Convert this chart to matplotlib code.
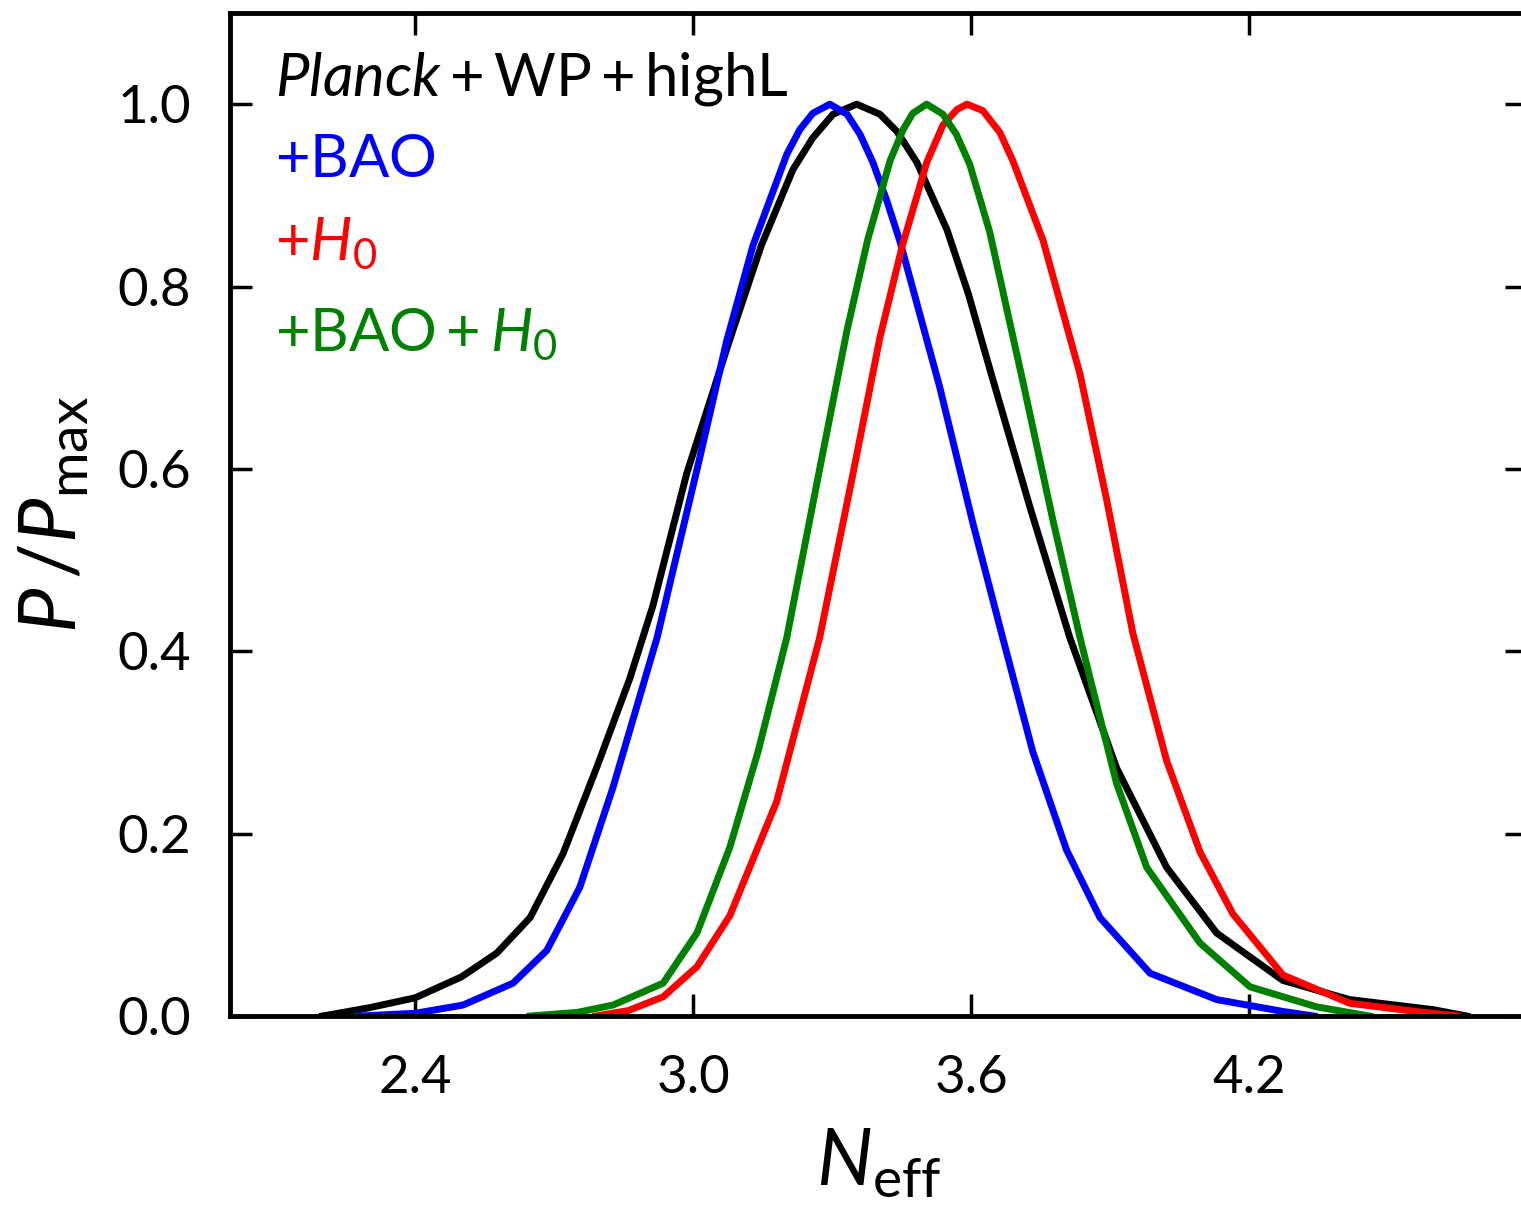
import matplotlib
matplotlib.use("Agg")
import matplotlib.pyplot as plt

# marginalised 1D posteriors for N_eff, normalised to the peak
black_x = [2.20, 2.30, 2.40, 2.50, 2.576, 2.648, 2.719, 2.792, 2.863, 2.913, 2.986, 3.079,
           3.147, 3.215, 3.258, 3.302, 3.353, 3.403, 3.440, 3.483, 3.548, 3.594, 3.640,
           3.727, 3.813, 3.914, 4.022, 4.130, 4.273, 4.417, 4.597, 4.67]
black_y = [0.0, 0.009, 0.020, 0.043, 0.069, 0.108, 0.178, 0.273, 0.37, 0.45, 0.595, 0.742,
           0.845, 0.928, 0.963, 0.989, 1.0, 0.989, 0.970, 0.936, 0.862, 0.792, 0.710,
           0.558, 0.415, 0.272, 0.163, 0.091, 0.039, 0.018, 0.007, 0.0]

blue_x = [2.28, 2.40, 2.503, 2.611, 2.684, 2.755, 2.827, 2.922, 3.014, 3.072, 3.129, 3.202,
          3.230, 3.258, 3.295, 3.332, 3.360, 3.388, 3.418, 3.446, 3.532, 3.604, 3.668,
          3.733, 3.806, 3.878, 3.986, 4.130, 4.273, 4.34]
blue_y = [0.0, 0.003, 0.012, 0.036, 0.072, 0.141, 0.251, 0.415, 0.612, 0.740, 0.845, 0.945,
          0.972, 0.990, 1.0, 0.989, 0.967, 0.936, 0.894, 0.850, 0.69, 0.54, 0.415,
          0.29, 0.182, 0.108, 0.047, 0.018, 0.005, 0.0]

red_x = [2.79, 2.86, 2.935, 3.008, 3.079, 3.18, 3.273, 3.345, 3.403, 3.451, 3.504, 3.539,
         3.569, 3.591, 3.625, 3.662, 3.690, 3.755, 3.835, 3.893, 3.949, 4.022, 4.094,
         4.165, 4.273, 4.417, 4.575, 4.65]
red_y = [0.0, 0.006, 0.021, 0.054, 0.11, 0.235, 0.415, 0.595, 0.744, 0.844, 0.936, 0.977,
         0.994, 1.0, 0.993, 0.969, 0.938, 0.851, 0.704, 0.565, 0.42, 0.28, 0.18,
         0.112, 0.045, 0.014, 0.004, 0.0]

green_x = [2.648, 2.75, 2.827, 2.935, 3.008, 3.079, 3.14, 3.202, 3.273, 3.332, 3.377, 3.425,
           3.453, 3.474, 3.504, 3.539, 3.568, 3.597, 3.640, 3.712, 3.776, 3.835, 3.856,
           3.914, 3.979, 4.094, 4.202, 4.346, 4.46]
green_y = [0.0, 0.004, 0.012, 0.036, 0.091, 0.185, 0.29, 0.415, 0.60, 0.752, 0.852, 0.938,
           0.972, 0.990, 1.0, 0.989, 0.967, 0.934, 0.860, 0.695, 0.545, 0.415, 0.372,
           0.255, 0.163, 0.080, 0.032, 0.010, 0.0]

labels = [r"$\mathit{Planck}+\mathrm{WP}+\mathrm{highL}$", r"$+$BAO", r"$+H_0$",
          r"$+\mathrm{BAO}+H_0$"]
label_y = [0.918, 0.8365, 0.7527, 0.662]
colors = ["black", "#0000ff", "#ff0000", "#008000"]

plt.rcParams['font.family'] = 'Lato'
plt.rcParams['mathtext.fontset'] = 'custom'
plt.rcParams['mathtext.rm'] = 'Lato'
plt.rcParams['mathtext.it'] = 'Lato:italic'
plt.rcParams['mathtext.bf'] = 'Lato:bold'

fig = plt.figure(figsize=(15.21, 12.07), dpi=100)
# right spine sits just past the edge of the canvas
ax = fig.add_axes([230 / 1521, 191 / 1207, 1297 / 1521, 1003 / 1207])

curves = [(black_x, black_y), (blue_x, blue_y), (red_x, red_y), (green_x, green_y)]
for (xs, ys), c in zip(curves, colors):
    ax.plot(xs, ys, color=c, lw=5.0, solid_joinstyle='round')

ax.set_xlim(2.0, 4.8)
ax.set_ylim(0, 1.1)
ax.set_xticks([2.4, 3.0, 3.6, 4.2])
ax.set_yticks([0.0, 0.2, 0.4, 0.6, 0.8, 1.0])
ax.tick_params(direction='in', length=16, width=2.5, top=True, right=True,
               labelsize=38, pad=28)
for s in ax.spines.values():
    s.set_linewidth(3.5)

ax.set_xlabel(r"$N_{\rm eff}$", fontsize=57, labelpad=18)
ax.set_ylabel(r"$P\,/P_{\rm max}$", fontsize=57, labelpad=20)

for txt, yy, c in zip(labels, label_y, colors):
    ax.text(0.0347, yy, txt, color=c, fontsize=43, transform=ax.transAxes,
            ha='left', va='baseline')

fig.savefig("out.png", dpi=100)
